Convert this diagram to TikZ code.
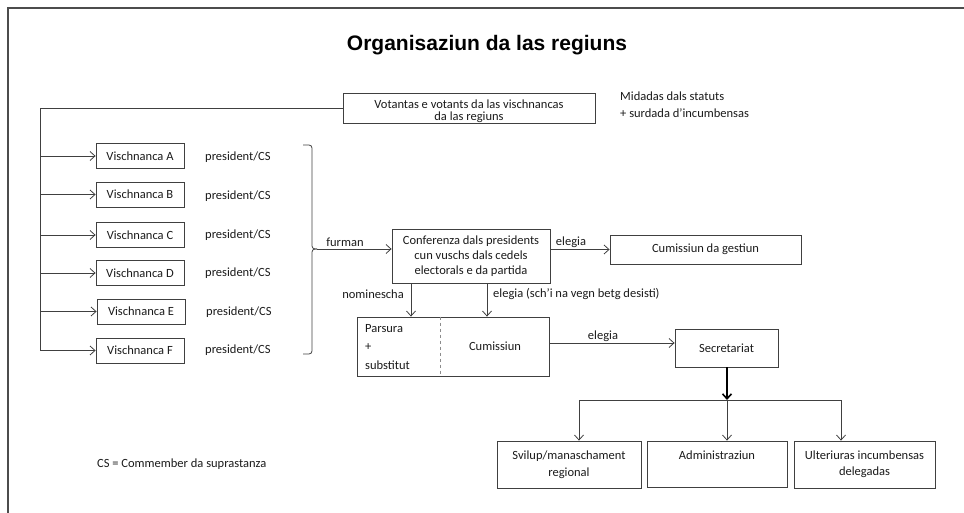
\documentclass[tikz,border=0pt]{standalone}
\usepackage{fontspec}
\setmainfont{Carlito}
\newfontfamily\titlefont{Liberation Sans}
\usetikzlibrary{arrows.meta,calc}
\definecolor{linec}{HTML}{404040}
\definecolor{txtc}{HTML}{1A1A1A}
\newcommand{\bodyfs}{\fontsize{12.5}{13}\selectfont}
\begin{document}
\begin{tikzpicture}[x=1pt,y=-1pt,
 box/.style={draw=linec, line width=0.8pt, inner sep=0pt, align=center, text=txtc, font=\bodyfs},
 vbox/.style={box, minimum width=88, minimum height=25},
 lbl/.style={inner sep=0pt, text=txtc, font=\bodyfs},
 arr/.style={draw=linec, line width=0.8pt, -{Straight Barb[length=5pt,width=9pt]}},
 ln/.style={draw=linec, line width=0.8pt}]
\useasboundingbox (0,0) rectangle (964,513);
\draw[line width=2pt, black!70] (7.5,513) -- (7.5,8.5) -- (964,8.5);

\node[font=\titlefont\bfseries\fontsize{21}{24}\selectfont, text=black] (title) at (487,45) {Organisaziun da las regiuns};

% top box
\node[box, minimum width=252, minimum height=30] (vot) at (469,108) {};
\node[lbl, align=center, font=\fontsize{12.5}{12.5}\selectfont] (votT) at (469,111) {Votantas e votants da las vischnancas\\da las regiuns};
\node[lbl, anchor=west] (mid1) at (620,96) {Midadas dals statuts};
\node[lbl, anchor=west] (mid2) at (620,113) {+ surdada d’incumbensas};

% vischnancas
\node[vbox] (vA) at (140,156) {Vischnanca A};
\node[vbox] (vB) at (140,194.5) {Vischnanca B};
\node[vbox] (vC) at (140,235) {Vischnanca C};
\node[vbox] (vD) at (140,273) {Vischnanca D};
\node[vbox] (vE) at (141,311.5) {Vischnanca E};
\node[vbox] (vF) at (140,350.5) {Vischnanca F};

\node[lbl, anchor=west] (pA) at (205,157) {president/CS};
\node[lbl, anchor=west] (pB) at (205,196) {president/CS};
\node[lbl, anchor=west] (pC) at (205,235) {president/CS};
\node[lbl, anchor=west] (pD) at (205,273) {president/CS};
\node[lbl, anchor=west] (pE) at (206,312) {president/CS};
\node[lbl, anchor=west] (pF) at (205,350) {president/CS};

% left bus
\coordinate (bl) at (40,350.5);
\draw[arr] (vot.west) -| (bl) -- (vF.west);
\draw[arr] (bl |- vA.west) -- (vA.west);
\draw[arr] (bl |- vB.west) -- (vB.west);
\draw[arr] (bl |- vC.west) -- (vC.west);
\draw[arr] (bl |- vD.west) -- (vD.west);
\draw[arr] (bl |- vE.west) -- (vE.west);

% bracket
\coordinate (tip) at (317,249);
\draw[ln, rounded corners=3pt] (303,145) -- (312,145) -- (312,249) -- (tip);
\draw[ln, rounded corners=3pt] (tip) -- (312,249) -- (312,354) -- (303,354);

% conference
\node[box, minimum width=158, minimum height=54, font=\fontsize{12.5}{15}\selectfont] (conf) at (471,256) {Conferenza dals presidents\\cun vuschs dals cedels\\electorals e da partida};
\draw[arr] (tip) -- (conf.west |- tip);
\node[lbl] (furman) at (345,242) {furman};

\node[box, minimum width=191, minimum height=29] (cg) at (705.5,249.5) {Cumissiun da gestiun};
\draw[arr] (conf.east |- cg.west) -- (cg.west);
\node[lbl] (el1) at (571,242) {elegia};

% parsura / cumissiun
\node[box, minimum width=192, minimum height=59] (par) at (453,346.5) {};
\coordinate (dv) at (440,0);
\draw[dashed, black!45, line width=0.8pt] (par.north -| dv) -- (par.south -| dv);
\node[lbl, anchor=west] (t1) at (365,329) {Parsura};
\node[lbl, anchor=west] (t2) at (365,347) {+};
\node[lbl, anchor=west] (t3) at (365,365) {substitut};
\node[lbl] (cum) at (495,346) {Cumissiun};

\coordinate (a1) at (411,0);
\coordinate (a2) at (487,0);
\draw[arr] (conf.south -| a1) -- (par.north -| a1);
\draw[arr] (conf.south -| a2) -- (par.north -| a2);
\node[lbl, anchor=east] (nom) at (404,294) {nominescha};
\node[lbl, anchor=west] (el2) at (493,294) {elegia (sch’i na vegn betg desisti)};

% secretariat
\node[box, minimum width=103, minimum height=38] (sec) at (726.5,348) {Secretariat};
\coordinate (cy) at (0,343);
\draw[arr] (par.east |- cy) -- (sec.west |- cy);
\node[lbl] (el3) at (603,336) {elegia};

% bottom
\node[box, minimum width=144, minimum height=47, font=\fontsize{12.5}{17}\selectfont] (s1) at (569,464.5) {Svilup/manaschament\\regional};
\node[box, minimum width=140, minimum height=46, font=\fontsize{12.5}{17}\selectfont] (s2) at (717,464) {Administraziun\\\mbox{}};
\node[box, minimum width=141, minimum height=47, font=\fontsize{12.5}{16}\selectfont] (s3) at (864.5,464.5) {Ulteriuras incumbensas\\delegadas};

\coordinate (b1) at (579,400);
\coordinate (bm) at (727,400);
\coordinate (b3) at (841,400);
\draw[draw=black, line width=1.6pt, -{Straight Barb[length=5pt,width=9pt]}] (sec.south -| bm) -- (bm);
\draw[ln] (b1) -- (b3);
\draw[arr] (b1) -- (b1 |- s1.north);
\draw[arr] (bm) -- (bm |- s2.north);
\draw[arr] (b3) -- (b3 |- s3.north);

\node[lbl, anchor=west] (cs) at (97,464) {CS = Commember da suprastanza};
\end{tikzpicture}
\end{document}
